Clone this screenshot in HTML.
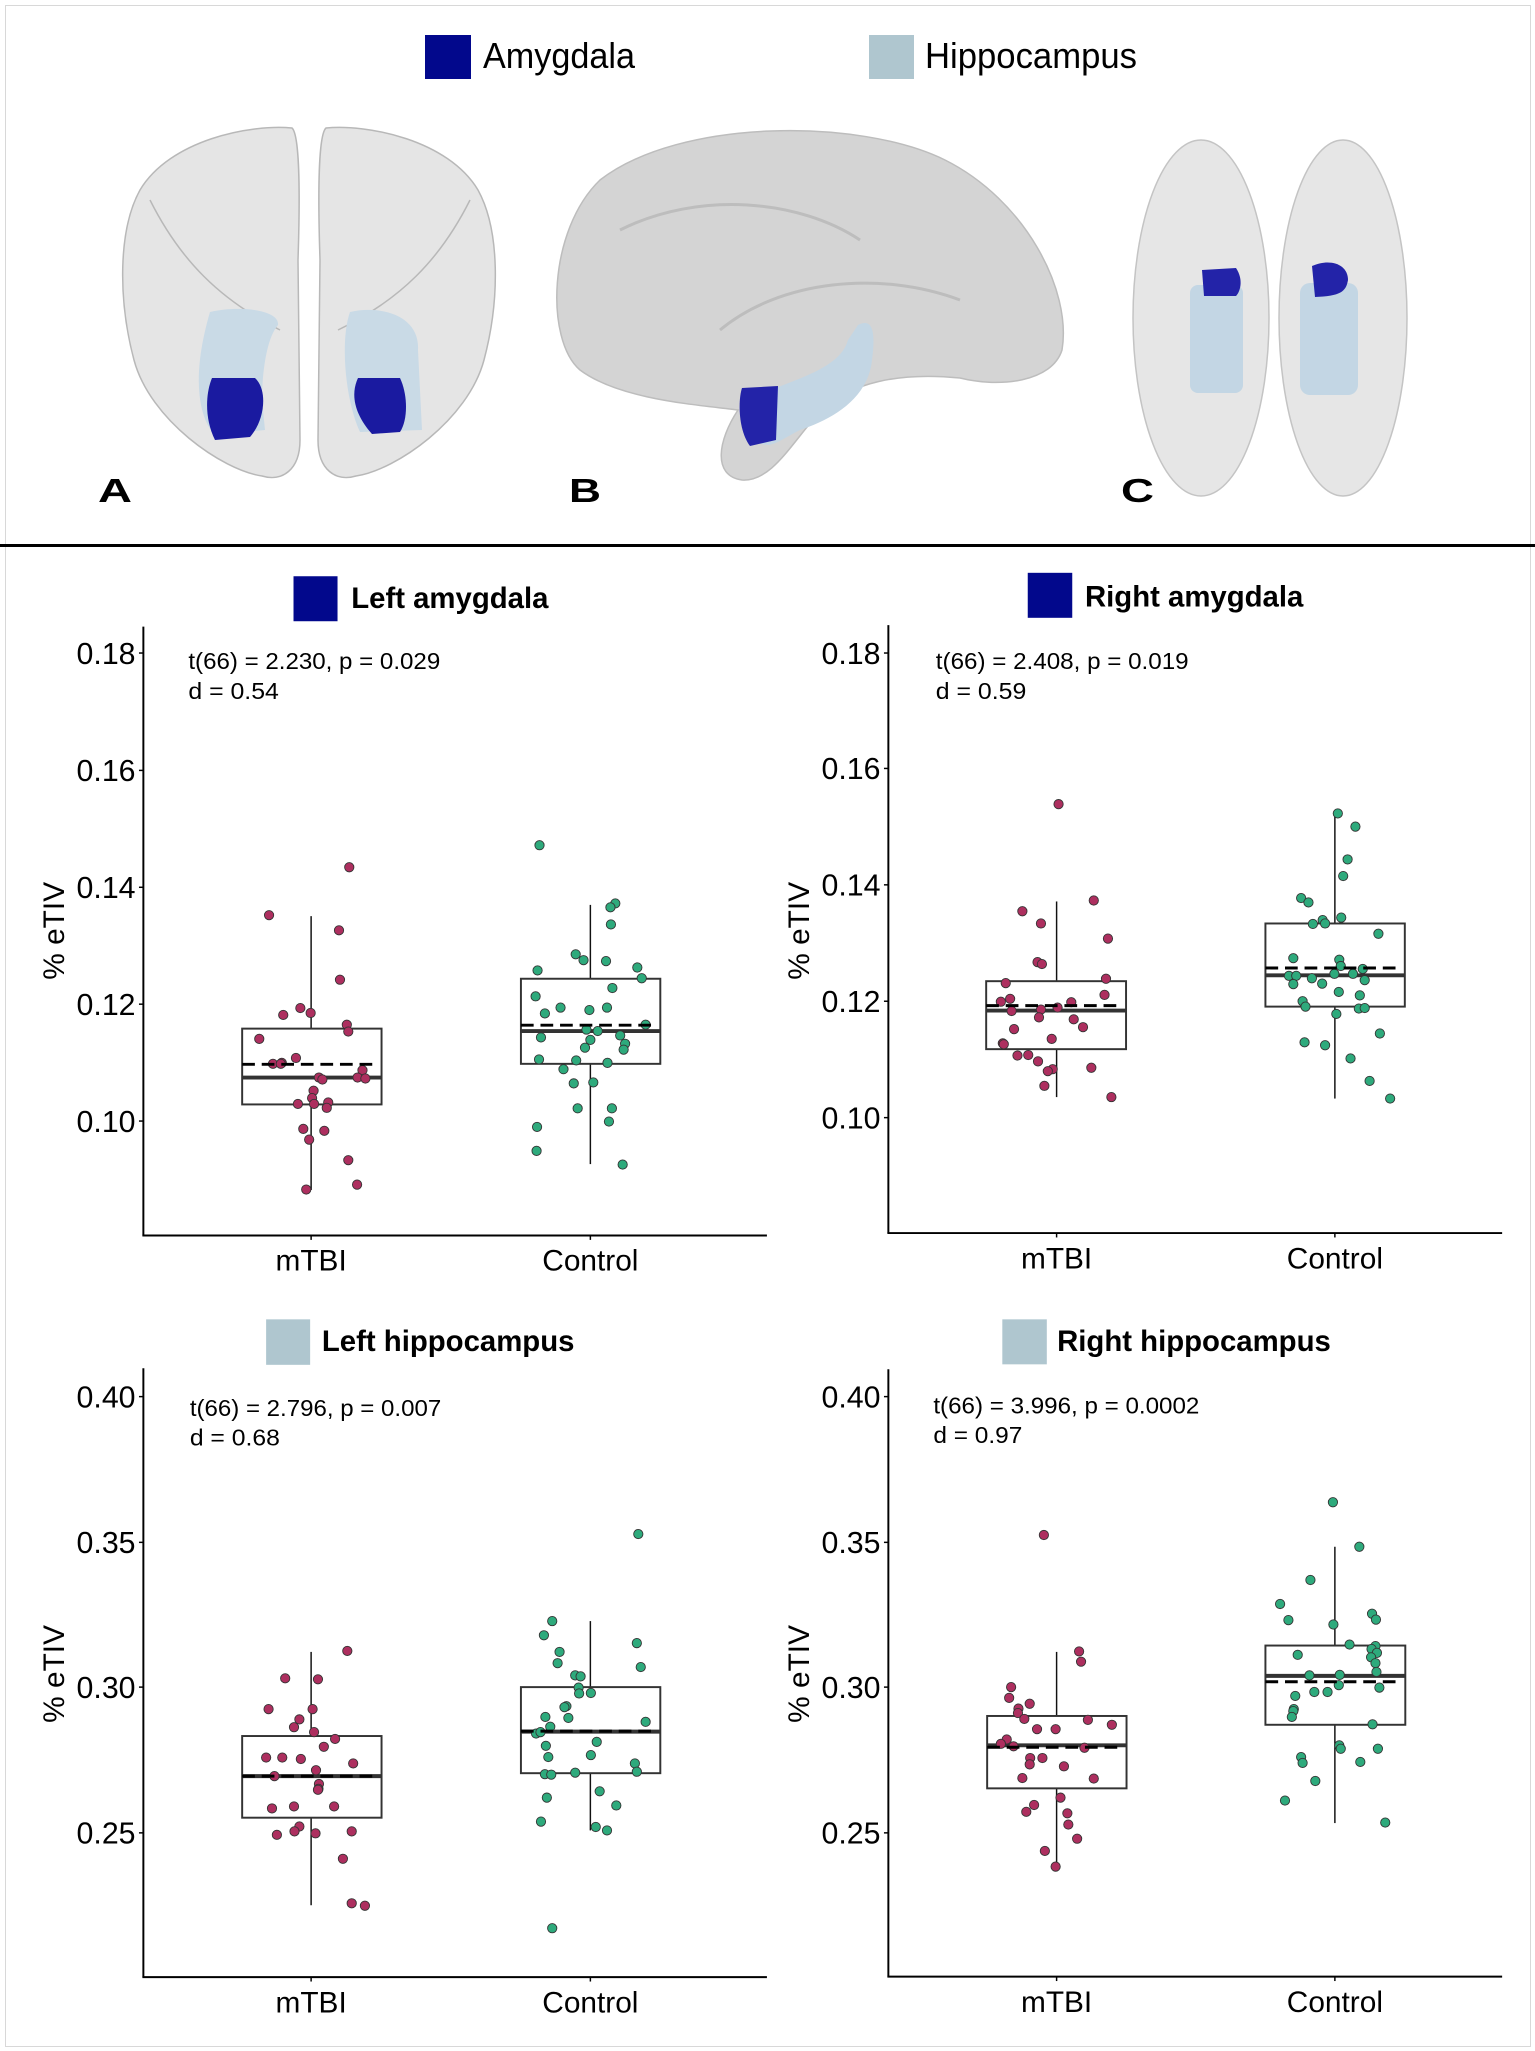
<!DOCTYPE html>
<html><head><meta charset="utf-8"><style>
html,body{margin:0;padding:0;background:#fff;}
#fig{position:relative;width:1535px;height:2051px;overflow:hidden;background:#fff;font-family:"Liberation Sans",Arial,sans-serif;}
.panel{position:absolute;}
</style></head><body><div id="fig">
<div style="position:absolute;left:5px;top:5px;width:1524px;height:2040px;border:1px solid #d8d8d8;"></div>
<svg style="position:absolute;left:0;top:0" width="1535" height="560" viewBox="0 0 1535 560">
<rect x="425" y="35" width="46" height="44" fill="#02088c"/>
<text x="483" y="68" font-size="36" font-family="Liberation Sans, sans-serif" textLength="152" lengthAdjust="spacingAndGlyphs">Amygdala</text>
<rect x="869" y="35" width="45" height="44" fill="#afc6cf"/>
<text x="925" y="68" font-size="36" font-family="Liberation Sans, sans-serif" textLength="212" lengthAdjust="spacingAndGlyphs">Hippocampus</text>
<g fill="#cfcfcf" fill-opacity="0.55" stroke="#b8b8b8" stroke-width="1.5">
<path d="M292 128 C300 135,300 200,298 260 L300 440 C300 470,282 482,262 476 C222 470,150 420,134 360 C118 300,118 230,140 190 C170 140,250 124,292 128 Z"/>
<path d="M326 128 C318 135,318 200,320 260 L318 440 C318 470,336 482,356 476 C396 470,468 420,484 360 C500 300,500 230,478 190 C448 140,368 124,326 128 Z"/>
<path d="M150 200 C180 260,220 300,280 330 M470 200 C440 260,400 300,338 330" fill="none"/>
</g>
<g fill="#c9dae6"><path d="M210 312 C240 305,280 310,278 325 C265 340,262 380,262 400 L265 430 L215 435 C200 420,190 380,210 312 Z"/><path d="M350 312 C380 305,420 315,418 350 L422 430 L360 432 C345 400,340 340,350 312 Z"/></g>
<g fill="#1a1aa0"><path d="M212 378 L255 378 C268 390,265 420,250 437 L215 440 C205 420,205 395,212 378 Z"/><path d="M358 378 L400 378 C408 395,408 420,400 432 L372 434 C355 415,350 395,358 378 Z"/></g>
<path d="M600 180 C680 118,860 118,945 160 C1025 200,1072 290,1062 350 C1052 382,1000 388,960 378 C900 372,850 382,820 412 C792 442,772 482,742 480 C712 476,718 440,738 410 C700 405,620 400,580 370 C545 340,548 230,600 180 Z" fill="#d4d4d4" stroke="#bdbdbd" stroke-width="1.5"/>
<path d="M620 230 C700 190,800 200,860 240 M720 330 C780 280,880 270,960 300" stroke="#bdbdbd" stroke-width="3" fill="none"/>
<path d="M858 325 C872 318,876 330,872 360 C868 400,830 420,800 430 C780 440,770 450,758 442 L760 395 C790 380,840 370,848 340 Z" fill="#c3d6e4"/>
<path d="M742 388 L778 386 L776 440 L750 446 C738 430,738 400,742 388 Z" fill="#2323a8"/>
<g fill="#e0e0e0" fill-opacity="0.8" stroke="#c4c4c4" stroke-width="1.5">
<ellipse cx="1201" cy="318" rx="68" ry="178"/><ellipse cx="1343" cy="318" rx="64" ry="178"/></g>
<rect x="1190" y="285" width="53" height="108" rx="8" fill="#c3d6e4"/>
<rect x="1300" y="283" width="58" height="112" rx="10" fill="#c3d6e4"/>
<path d="M1202 270 L1236 268 C1244 280,1240 292,1236 296 L1204 296 Z" fill="#2323a8"/>
<path d="M1312 266 C1330 258,1348 264,1348 280 C1346 292,1340 296,1315 297 Z" fill="#2323a8"/>
<g font-family="Liberation Sans, sans-serif" font-weight="900" font-size="33"><text x="98" y="502" textLength="34" lengthAdjust="spacingAndGlyphs">A</text><text x="569" y="502" textLength="32" lengthAdjust="spacingAndGlyphs">B</text><text x="1121" y="502" textLength="33" lengthAdjust="spacingAndGlyphs">C</text></g>
<rect x="0" y="544" width="1535" height="3" fill="#000"/>
</svg>
<div id="panels"></div>
</div>
<script>
const P=[
{ox:0,oy:520,ax:293,top:218,bot:1463,xend:1568,ticks:[[272,'0.18'],[512,'0.16'],[751,'0.14'],[990,'0.12'],[1229,'0.10']],c1:636,c2:1207,
 tb:[600,115,90,92],tc:'#02088c',tx:718,ty:180,title:'Left amygdala',sx:385,s1:305,s2:366,st:'t(66) = 2.230, p = 0.029',sd:'d = 0.54',sl:[515,185],yl:[110,840],
 b1:[495,780,1040,1195,1140,1113,810,1370],b2:[1065,1350,938,1112,1045,1033,787,1317],
 m:[[550,808],[714,710],[693,839],[695,940],[530,1061],[579,1012],[614,998],[635,1008],[709,1032],[712,1046],[558,1112],[576,1110],[605,1100],[574,1112],[652,1140],[659,1144],[741,1125],[731,1140],[747,1142],[641,1167],[638,1182],[609,1194],[642,1194],[671,1191],[668,1202],[620,1245],[663,1249],[632,1267],[712,1309],[730,1359],[626,1369]],
 c:[[1103,665],[1258,784],[1248,792],[1249,827],[1177,888],[1193,900],[1239,902],[1099,921],[1303,915],[1312,937],[1252,957],[1095,974],[1146,997],[1114,1009],[1205,1002],[1241,997],[1320,1032],[1199,1042],[1222,1045],[1106,1058],[1268,1054],[1207,1063],[1278,1071],[1196,1079],[1275,1083],[1102,1103],[1178,1105],[1242,1110],[1152,1123],[1173,1152],[1213,1150],[1181,1203],[1251,1203],[1245,1230],[1098,1241],[1097,1290],[1273,1318]]},
{ox:767,oy:520,ax:248,top:215,bot:1458,xend:1503,ticks:[[272,'0.18'],[508,'0.16'],[746,'0.14'],[984,'0.12'],[1222,'0.10']],c1:592,c2:1161,
 tb:[533,108,91,92],tc:'#02088c',tx:650,ty:177,title:'Right amygdala',sx:345,s1:305,s2:366,st:'t(66) = 2.408, p = 0.019',sd:'d = 0.59',sl:[517,185],yl:[65,840],
 b1:[448,734,943,1082,1003,993,780,1180],b2:[1019,1304,825,995,931,916,600,1183],
 m:[[596,581],[668,778],[522,800],[560,825],[697,856],[553,904],[562,908],[693,938],[488,947],[497,979],[478,985],[690,971],[622,986],[500,1004],[594,997],[560,1001],[556,1017],[627,1021],[646,1037],[505,1041],[582,1061],[482,1070],[484,1072],[512,1095],[534,1094],[554,1107],[663,1120],[584,1123],[574,1127],[567,1157],[704,1180]],
 c:[[1167,600],[1203,627],[1187,694],[1178,728],[1092,773],[1107,782],[1174,813],[1136,818],[1116,826],[1141,825],[1250,846],[1076,896],[1170,899],[1173,912],[1218,918],[1067,932],[1082,932],[1160,928],[1114,937],[1198,928],[1222,941],[1076,949],[1135,948],[1169,965],[1212,972],[1095,984],[1101,995],[1210,999],[1222,998],[1164,1010],[1253,1050],[1099,1068],[1141,1074],[1193,1101],[1232,1147],[1274,1183]]},
{ox:0,oy:1290,ax:293,top:160,bot:1405,xend:1568,ticks:[[218,'0.40'],[516,'0.35'],[812,'0.30'],[1110,'0.25']],c1:636,c2:1207,
 tb:[544,60,90,93],tc:'#afc6cf',tx:658,ty:125,title:'Left hippocampus',sx:388,s1:258,s2:318,st:'t(66) = 2.796, p = 0.007',sd:'d = 0.68',sl:[514,184],yl:[110,785],
 b1:[495,780,912,1079,994,994,740,1258],b2:[1065,1350,812,988,903,902,677,1105],
 m:[[710,738],[583,794],[650,796],[549,857],[639,857],[612,878],[601,894],[642,904],[685,918],[662,934],[544,956],[577,956],[615,959],[722,968],[646,982],[561,994],[652,1010],[651,1020],[650,1022],[556,1060],[601,1056],[683,1056],[612,1097],[566,1114],[602,1107],[645,1111],[719,1107],[701,1163],[719,1254],[746,1259]],
 c:[[1305,499],[1129,677],[1112,706],[1302,722],[1144,740],[1140,763],[1310,771],[1176,788],[1187,790],[1183,813],[1184,825],[1208,824],[1158,851],[1154,853],[1115,873],[1162,875],[1320,883],[1125,893],[1096,907],[1105,904],[1220,924],[1116,932],[1121,955],[1208,951],[1114,990],[1127,991],[1176,987],[1298,968],[1302,985],[1226,1025],[1118,1038],[1260,1054],[1106,1087],[1218,1098],[1241,1105],[1129,1305]]},
{ox:767,oy:1290,ax:248,top:162,bot:1404,xend:1503,ticks:[[218,'0.40'],[516,'0.35'],[812,'0.30'],[1110,'0.25']],c1:592,c2:1161,
 tb:[481,60,91,92],tc:'#afc6cf',tx:593,ty:125,title:'Right hippocampus',sx:340,s1:253,s2:313,st:'t(66) = 3.996, p = 0.0002',sd:'d = 0.97',sl:[544,182],yl:[65,785],
 b1:[450,735,871,1019,931,935,740,1180],b2:[1019,1305,727,889,789,801,525,1090],
 m:[[566,501],[638,739],[642,760],[499,812],[495,834],[537,846],[514,856],[513,865],[526,877],[656,879],[705,889],[552,898],[590,898],[490,919],[478,928],[504,933],[649,936],[538,957],[563,957],[537,970],[607,974],[522,998],[668,999],[600,1038],[546,1053],[530,1067],[614,1070],[616,1093],[634,1122],[568,1147],[590,1179]],
 c:[[1157,434],[1211,525],[1111,593],[1049,642],[1066,675],[1237,662],[1245,674],[1158,684],[1191,725],[1244,728],[1236,734],[1247,742],[1085,746],[1235,751],[1244,763],[1246,781],[1171,787],[1109,788],[1169,808],[1252,813],[1119,822],[1146,822],[1080,830],[1077,857],[1076,861],[1073,873],[1238,888],[1170,931],[1173,938],[1249,938],[1092,955],[1095,967],[1213,965],[1121,1004],[1059,1044],[1264,1089]]}
];
let html='';
function box(b,cx){const[x1,x2,y1,y2,med,mean,w1,w2]=b;
 return `<line x1="${cx}" y1="${w1}" x2="${cx}" y2="${y1}" stroke="#111" stroke-width="3"/><line x1="${cx}" y1="${y2}" x2="${cx}" y2="${w2}" stroke="#111" stroke-width="3"/>
 <rect x="${x1}" y="${y1}" width="${x2-x1}" height="${y2-y1}" fill="none" stroke="#333" stroke-width="4"/>
 <line x1="${x1}" y1="${med}" x2="${x2}" y2="${med}" stroke="#333" stroke-width="8"/>`;}
function mean(b){return `<line x1="${b[0]}" y1="${b[5]}" x2="${b[1]-10}" y2="${b[5]}" stroke="#000" stroke-width="6" stroke-dasharray="26,14"/>`;}
function pts(a,col){return a.map(p=>`<circle cx="${p[0]}" cy="${p[1]}" r="9.5" fill="${col}" stroke="#333" stroke-width="1.8"/>`).join('');}
for(const p of P){
 let s=`<svg class="panel" style="left:${p.ox}px;top:${p.oy}px" width="767" height="760" viewBox="0 0 1568 1554" font-family="Liberation Sans, Arial, sans-serif">`;
 s+=`<rect x="${p.tb[0]}" y="${p.tb[1]}" width="${p.tb[2]}" height="${p.tb[3]}" fill="${p.tc}"/>`;
 s+=`<text x="${p.tx}" y="${p.ty}" font-size="60" font-weight="bold">${p.title}</text>`;
 s+=`<line x1="${p.ax}" y1="${p.top}" x2="${p.ax}" y2="${p.bot}" stroke="#000" stroke-width="4"/>`;
 s+=`<line x1="${p.ax-2}" y1="${p.bot}" x2="${p.xend}" y2="${p.bot}" stroke="#000" stroke-width="4"/>`;
 for(const t of p.ticks){s+=`<line x1="${p.ax-9}" y1="${t[0]}" x2="${p.ax}" y2="${t[0]}" stroke="#000" stroke-width="3"/><text x="${p.ax-16}" y="${t[0]+22}" font-size="62" text-anchor="end">${t[1]}</text>`;}
 for(const c of [p.c1,p.c2]){s+=`<line x1="${c}" y1="${p.bot}" x2="${c}" y2="${p.bot+9}" stroke="#000" stroke-width="3"/>`;}
 s+=`<text x="${p.c1}" y="${p.bot+72}" font-size="61" text-anchor="middle">mTBI</text><text x="${p.c2}" y="${p.bot+72}" font-size="61" text-anchor="middle">Control</text>`;
 s+=`<text transform="translate(${p.yl[0]+21},${p.yl[1]}) rotate(-90)" font-size="61" text-anchor="middle">% eTIV</text>`;
 s+=`<text x="${p.sx}" y="${p.s1}" font-size="47" textLength="${p.sl[0]}" lengthAdjust="spacingAndGlyphs">${p.st}</text><text x="${p.sx}" y="${p.s2}" font-size="47" textLength="${p.sl[1]}" lengthAdjust="spacingAndGlyphs">${p.sd}</text>`;
 s+=box(p.b1,p.c1)+box(p.b2,p.c2);
 s+=pts(p.m,'#ad2f5f')+pts(p.c,'#2eaa7c');
 s+=mean(p.b1)+mean(p.b2);
 s+='</svg>';html+=s;}
document.getElementById('panels').innerHTML=html;
</script>
</body></html>
